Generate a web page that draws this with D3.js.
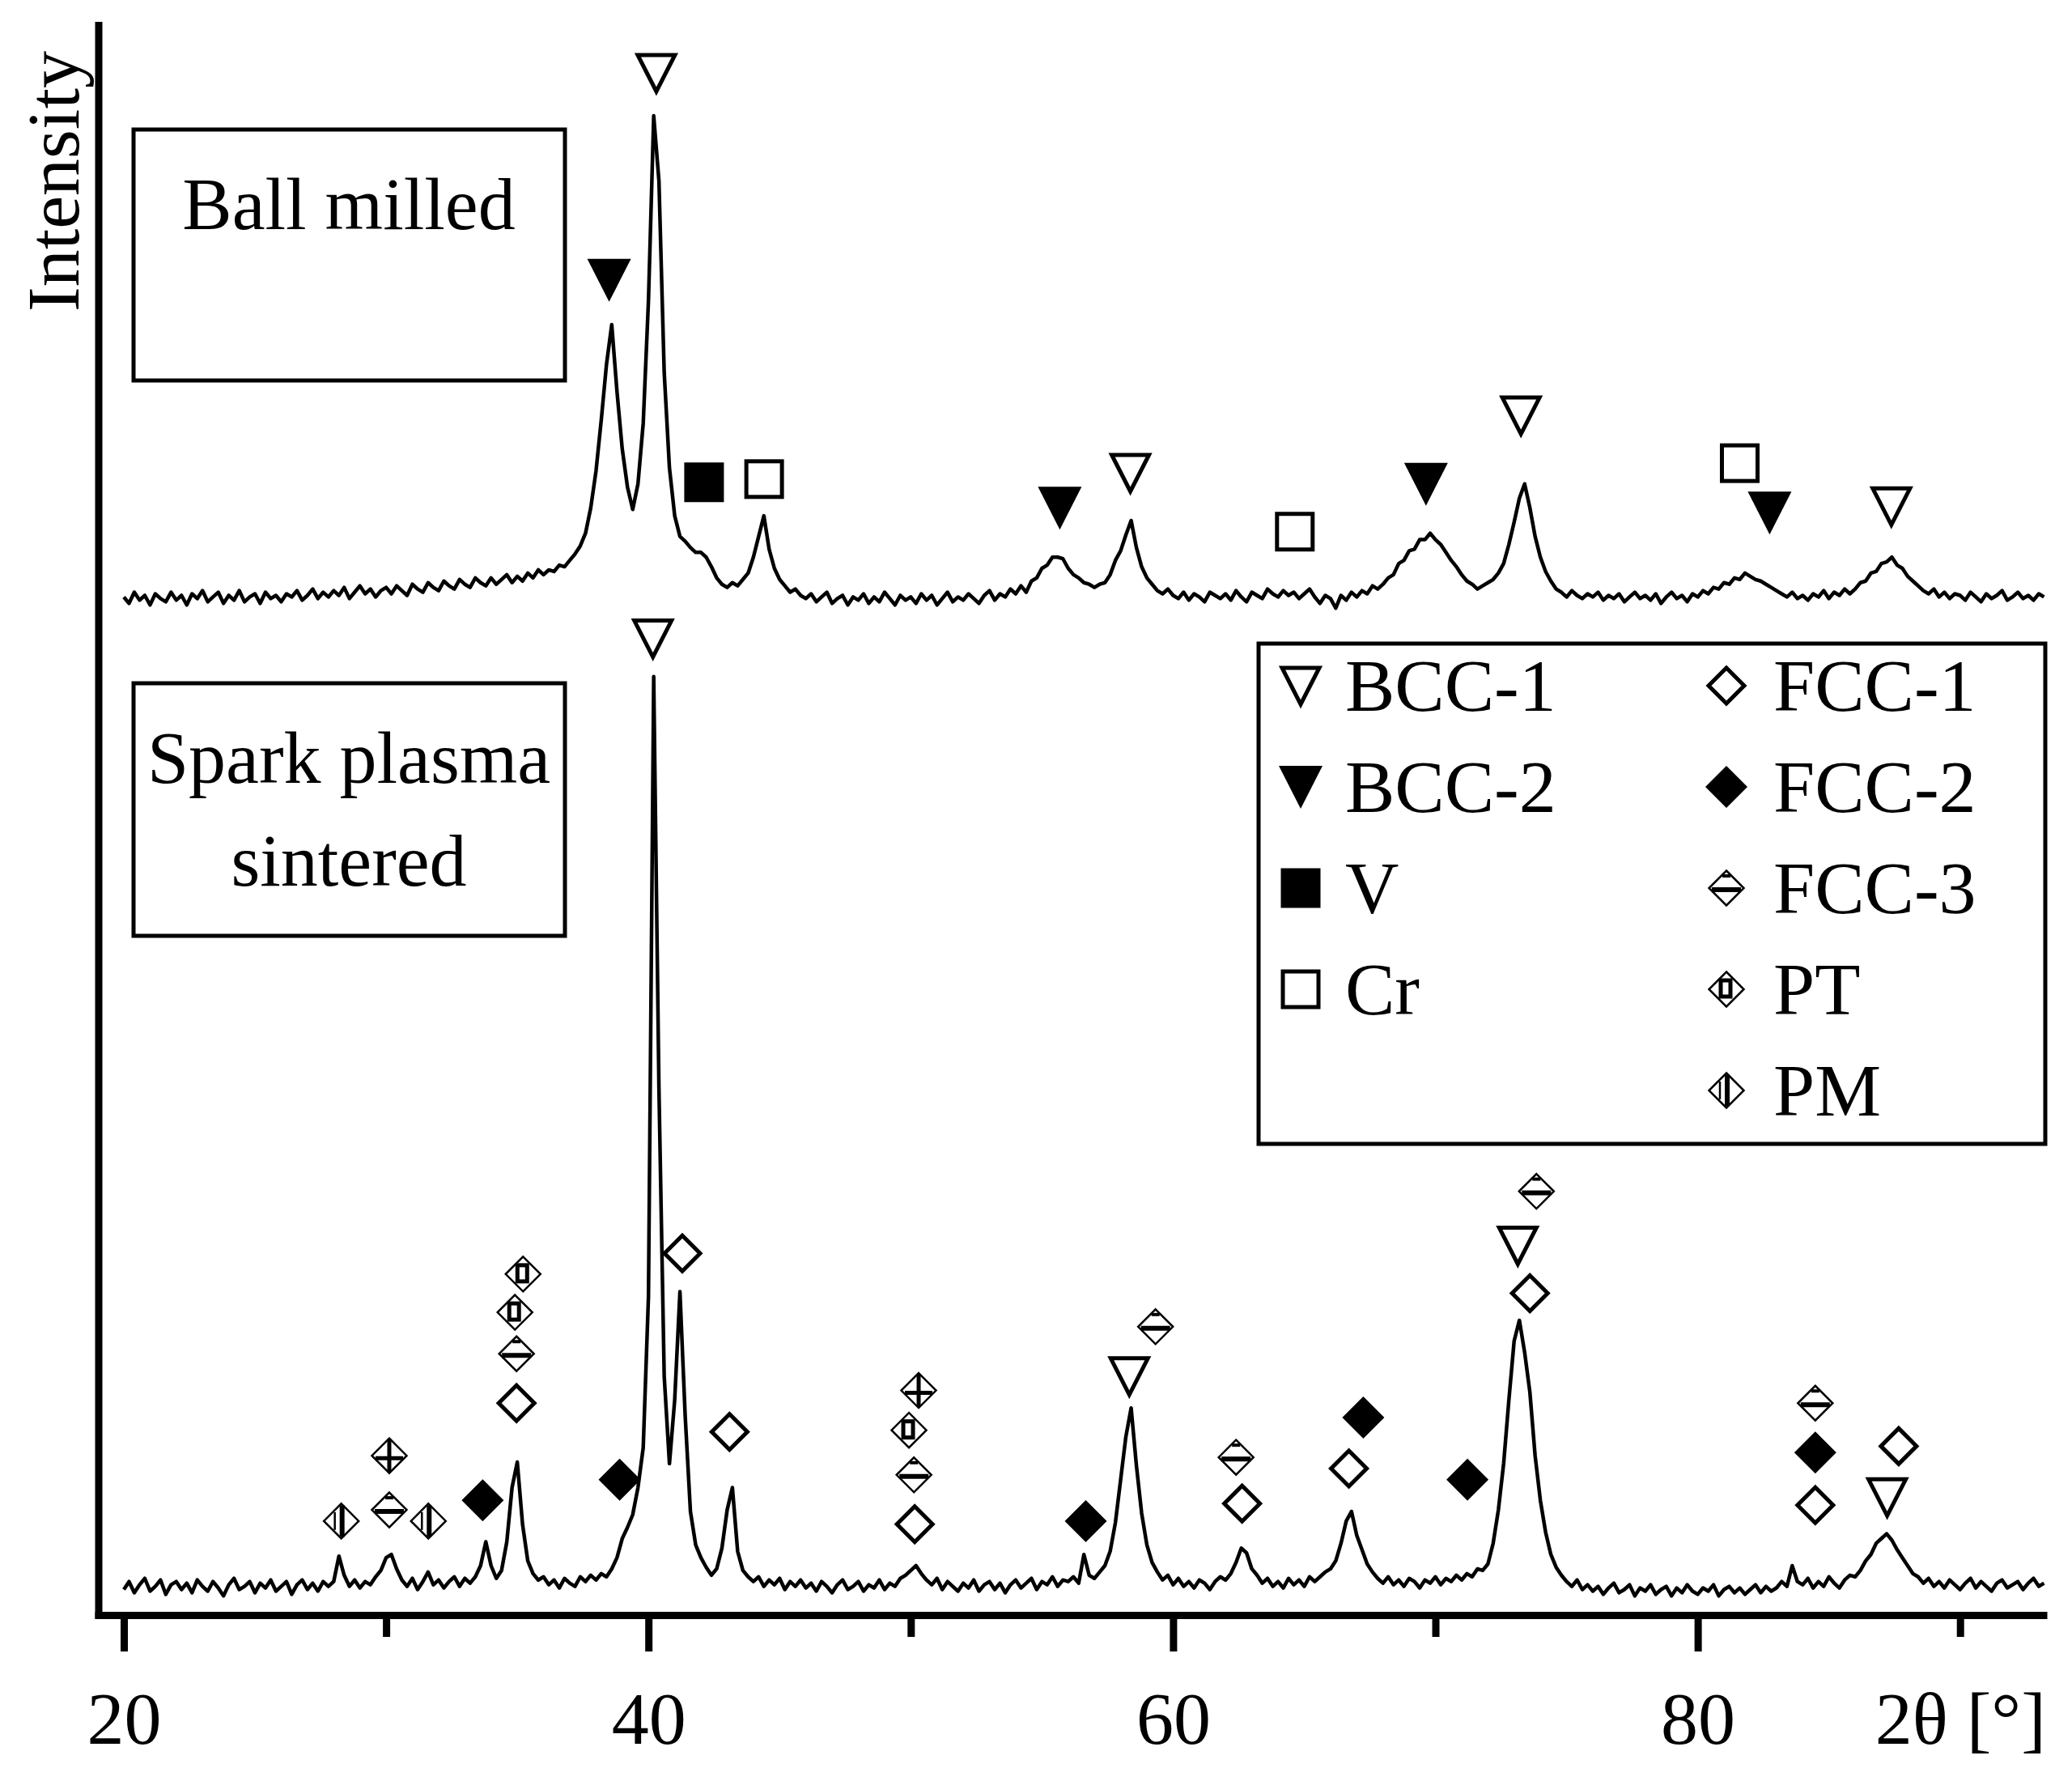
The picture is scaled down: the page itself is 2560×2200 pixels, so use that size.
<!DOCTYPE html>
<html><head><meta charset="utf-8">
<script src="https://cdn.jsdelivr.net/npm/d3@7"></script>
<style>body{margin:0;background:#fff} text{font-family:"Liberation Serif","Times New Roman",serif;fill:#000}</style>
</head><body><svg id="chart" width="2560" height="2200"></svg>
<script>
// ---- data ----
const twoThetaStart = 20, twoThetaStep = 0.2;   // 2θ grid of the measured patterns (20.0 … 93.2)
// Spark plasma sintered pattern (arbitrary intensity units)
const spsIntensity = [
16,21,14,19,23,15,18,22,13,19, 21,16,20,14,22,18,15,21,17,12,
19,23,16,18,21,14,20,17,22,15, 18,21,13,19,22,16,20,15,21,18,
21,37,25,18,22,17,21,19,24,28, 36,38,29,22,18,23,16,21,27,19,
22,17,21,24,18,23,20,24,31,46, 31,23,28,46,80,96,57,34,26,22,
24,19,22,17,23,20,18,24,21,25, 22,26,24,29,36,48,55,63,80,105,
200,589,330,150,95,135,203,125,65,44, 36,30,25,29,42,66,80,40,28,24,
21,24,18,22,19,23,16,21,18,22, 17,20,15,21,18,14,19,22,16,18,
21,15,19,17,22,16,20,18,23,25, 28,31,26,22,19,23,16,21,18,15,
20,17,22,15,19,21,16,20,14,19, 22,17,20,23,16,21,19,24,18,22,
21,24,20,38,25,23,27,31,40,58, 85,112,130,94,64,44,33,27,22,25,
19,23,18,21,17,22,20,16,21,24, 22,26,33,42,39,29,25,20,23,18,
21,17,23,19,22,18,24,21,24,27, 29,34,45,59,65,50,41,32,27,23,
20,24,19,22,18,23,21,17,22,20, 24,19,23,21,25,22,26,24,29,28,
32,45,66,95,135,172,185,165,140,100, 72,52,38,30,25,21,18,22,16,19,
15,18,13,17,20,14,16,19,12,17, 15,19,13,16,18,12,17,14,19,15,
13,17,15,19,12,16,18,14,17,13, 16,19,14,18,15,17,21,18,31,21,
19,23,17,21,18,24,20,17,22,25, 24,28,34,38,45,48,51,47,41,36,
31,26,24,20,23,18,21,17,22,19, 16,20,23,17,21,18,15,20,22,17,
19,21,16,20,23,18,20
];
// Ball milled pattern (arbitrary intensity units, drawn stacked above)
const bmIntensity = [
19,15,22,17,20,14,21,18,16,22, 17,20,14,21,18,23,16,19,22,15,
20,17,23,16,19,21,15,22,18,20, 16,21,19,23,17,20,24,18,22,19,
23,20,25,18,22,26,21,24,19,23, 25,21,26,23,20,27,24,22,28,25,
23,29,26,24,30,27,25,31,28,26, 31,27,30,33,28,32,29,34,31,36,
33,36,35,39,38,42,46,51,59,75, 98,130,165,190,148,112,88,74,90,128,
205,321,280,160,100,70,57,54,50,47, 47,44,38,31,27,25,28,26,30,34,
44,57,70,49,37,30,26,22,24,20, 18,21,16,19,22,15,18,20,14,19,
17,21,15,19,16,22,18,14,20,17, 19,15,21,17,20,14,18,22,16,19,
17,21,18,15,20,23,17,21,19,24, 21,26,22,29,31,37,39,44,44,43,
37,33,31,28,27,25,27,28,33,42, 48,58,67,50,38,31,27,23,21,24,
20,18,22,17,21,19,16,22,20,18, 21,17,23,19,16,22,20,18,24,21,
19,23,20,22,18,21,24,19,15,20, 18,12,20,17,22,19,23,21,26,24,
27,31,33,40,42,48,49,55,55,59, 55,52,47,42,38,33,29,27,24,26,
28,30,34,40,52,66,81,90,75,57, 44,35,29,24,22,19,23,20,18,21,
19,22,17,20,18,21,16,19,22,18, 20,17,21,15,19,22,18,20,16,21,
19,23,21,25,24,28,27,31,30,34, 32,30,29,27,25,23,21,19,22,18,
20,17,21,19,23,18,22,20,24,21, 24,28,29,34,35,40,41,44,39,37,
32,29,26,23,21,24,19,22,18,21, 20,17,22,19,16,21,18,20,23,17,
19,22,18,20,17,21,19
];
// Phase markers: [phase, 2θ, marker level in the pattern's intensity units]
const bmMarkers = [
["BCC-1",40.30,348],["BCC-2",38.50,218],["V",42.12,91],["Cr",44.41,93],
["BCC-2",55.68,75],["BCC-1",58.37,97],["Cr",64.64,60],["BCC-2",69.64,90],
["BCC-1",73.26,133],["Cr",81.60,103],["BCC-2",82.74,72],["BCC-1",87.38,76]
];
const spsMarkers = [
["PM",28.29,59],["PT+",30.12,100],["FCC-3",30.12,66],["PM",31.61,59],["FCC-2",33.68,72],
["PT",35.22,214],["PT",34.91,190],["FCC-3",34.97,164],["FCC-1",34.97,133],["FCC-2",38.9,85],
["BCC-1",40.17,613],["FCC-1",41.29,227],["FCC-1",43.09,115],
["PT+",50.3,141],["PT",49.93,116],["FCC-3",50.12,88],["FCC-1",50.15,57],
["FCC-2",56.67,59],["BCC-1",58.33,150],["FCC-3",59.33,181],["FCC-3",62.4,99],["FCC-1",62.63,70],
["FCC-1",66.7,92],["FCC-2",67.25,124],["FCC-2",71.22,85],["BCC-1",73.14,232],["FCC-1",73.6,202],
["FCC-3",73.85,266],["FCC-3",84.48,133],["FCC-2",84.48,102],["FCC-1",84.48,69],
["BCC-1",87.22,74],["FCC-1",87.66,106]
];
const legendLeft = ["BCC-1","BCC-2","V","Cr"];
const legendRight = ["FCC-1","FCC-2","FCC-3","PT","PM"];
const majorTicks = [20,40,60,80];
const minorTicks = [30,50,70,90];
const axisTitleX = "2θ [°]";
const axisTitleY = "Intensity";
const sampleLabels = [["Ball milled"],["Spark plasma","sintered"]];

// ---- drawing ----
const svg = d3.select("#chart");
svg.append("rect").attr("width",2560).attr("height",2200).attr("fill","#fff");
const x = d3.scaleLinear().domain([18.89, 93.31]).range([117, 2529]);
const y = d3.scaleLinear().domain([0, 1000]).range([1995, 27]);
const BM_OFFSET = 620;
const FS = 92;

const line = d3.line().x(d => x(d[0])).y(d => y(d[1]));
const toPts = (vals, off) => vals.map((v, i) => [twoThetaStart + i * twoThetaStep, v + off]);
[[spsIntensity,0],[bmIntensity,BM_OFFSET]].forEach(([vals,off]) => {
  svg.append("path").datum(toPts(vals, off)).attr("d", line)
    .attr("fill","none").attr("stroke","#000").attr("stroke-width",4.5).attr("stroke-linejoin","round");
});

// x axis
const xAxis = d3.axisBottom(x).tickValues([...majorTicks, ...minorTicks]).tickSize(45).tickSizeOuter(0)
  .tickFormat(d => d === 90 ? axisTitleX : (majorTicks.includes(d) ? d : ""));
const gx = svg.append("g").attr("transform","translate(0,1995)").call(xAxis);
gx.attr("font-size", FS).attr("font-family", '"Liberation Serif","Times New Roman",serif');
gx.select(".domain").attr("stroke","#000").attr("stroke-width",9);
gx.selectAll(".tick line").attr("stroke","#000").attr("stroke-width",9)
  .attr("y2", d => majorTicks.includes(d) ? 45 : 27);
gx.selectAll(".tick text").attr("y",159).attr("dy",0).attr("fill","#000");

// y axis
svg.append("line").attr("x1",122).attr("x2",122).attr("y1",27).attr("y2",1999.5)
  .attr("stroke","#000").attr("stroke-width",9);
svg.append("text").attr("transform","translate(97,224) rotate(-90)").attr("text-anchor","middle")
  .attr("font-size",FS).text(axisTitleY);

// sample label boxes
const boxes = [{y0:160, y1:470, base:[283]}, {y0:844, y1:1156, base:[967,1094]}];
boxes.forEach((b, i) => {
  svg.append("rect").attr("x",165).attr("y",b.y0).attr("width",533).attr("height",b.y1-b.y0)
    .attr("fill","#fff").attr("stroke","#000").attr("stroke-width",5);
  sampleLabels[i].forEach((t, j) => svg.append("text").attr("x",431).attr("y",b.base[j])
    .attr("text-anchor","middle").attr("font-size",FS).text(t));
});

// glyphs
const dia = h => `M0,${-h}L${h},0L0,${h}L${-h},0Z`;
function glyph(g, type) {
  const k = "#000";
  const seg = (x1,y1,x2,y2,w) => g.append("line").attr("x1",x1).attr("y1",y1).attr("x2",x2).attr("y2",y2)
    .attr("stroke",k).attr("stroke-width",w);
  if (type === "BCC-1") g.append("path").attr("d","M-23,-22L23,-22L0,23Z").attr("fill","#fff").attr("stroke",k).attr("stroke-width",5);
  else if (type === "BCC-2") g.append("path").attr("d","M-27,-26L27,-26L0,27Z").attr("fill",k);
  else if (type === "V") g.append("rect").attr("x",-24.5).attr("y",-24.5).attr("width",49).attr("height",49).attr("fill",k);
  else if (type === "Cr") g.append("rect").attr("x",-22).attr("y",-22).attr("width",44).attr("height",44).attr("fill","#fff").attr("stroke",k).attr("stroke-width",5);
  else if (type === "FCC-1") g.append("path").attr("d",dia(22)).attr("fill","#fff").attr("stroke",k).attr("stroke-width",5);
  else if (type === "FCC-2") g.append("path").attr("d",dia(26)).attr("fill",k);
  else {
    const h = 21.5;
    g.append("path").attr("d",dia(h)).attr("fill","#fff").attr("stroke",k).attr("stroke-width",2.5);
    if (type === "FCC-3") { seg(-18,2,18,2,6); seg(-5,-15,5,-15,4); }
    else if (type === "PT") { g.append("rect").attr("x",-7).attr("y",-11).attr("width",12).attr("height",20).attr("fill","none").attr("stroke",k).attr("stroke-width",5); }
    else if (type === "PT+") { seg(0,-h+1,0,h-1,5); seg(-17,3,17,3,5); }
    else if (type === "PM") { seg(1,-h+2,1,h-2,6); seg(-8,-11,-8,11,2.5); }
  }
}
function placeMarkers(list, off) {
  svg.append("g").selectAll("g").data(list).join("g")
    .attr("transform", d => `translate(${x(d[1])},${y(d[2] + off)})`)
    .each(function(d){ glyph(d3.select(this), d[0]); });
}
placeMarkers(bmMarkers, BM_OFFSET);
placeMarkers(spsMarkers, 0);

// legend
svg.append("rect").attr("x",1555).attr("y",795).attr("width",972).attr("height",618)
  .attr("fill","#fff").attr("stroke","#000").attr("stroke-width",5);
[[legendLeft,1607,1662],[legendRight,2133,2191]].forEach(([items, sx, tx]) => {
  items.forEach((name, i) => {
    const base = 878 + i * 125;
    glyph(svg.append("g").attr("transform",`translate(${sx},${base - 31})`), name);
    svg.append("text").attr("x",tx).attr("y",base).attr("font-size",FS).text(name);
  });
});
</script></body></html>
